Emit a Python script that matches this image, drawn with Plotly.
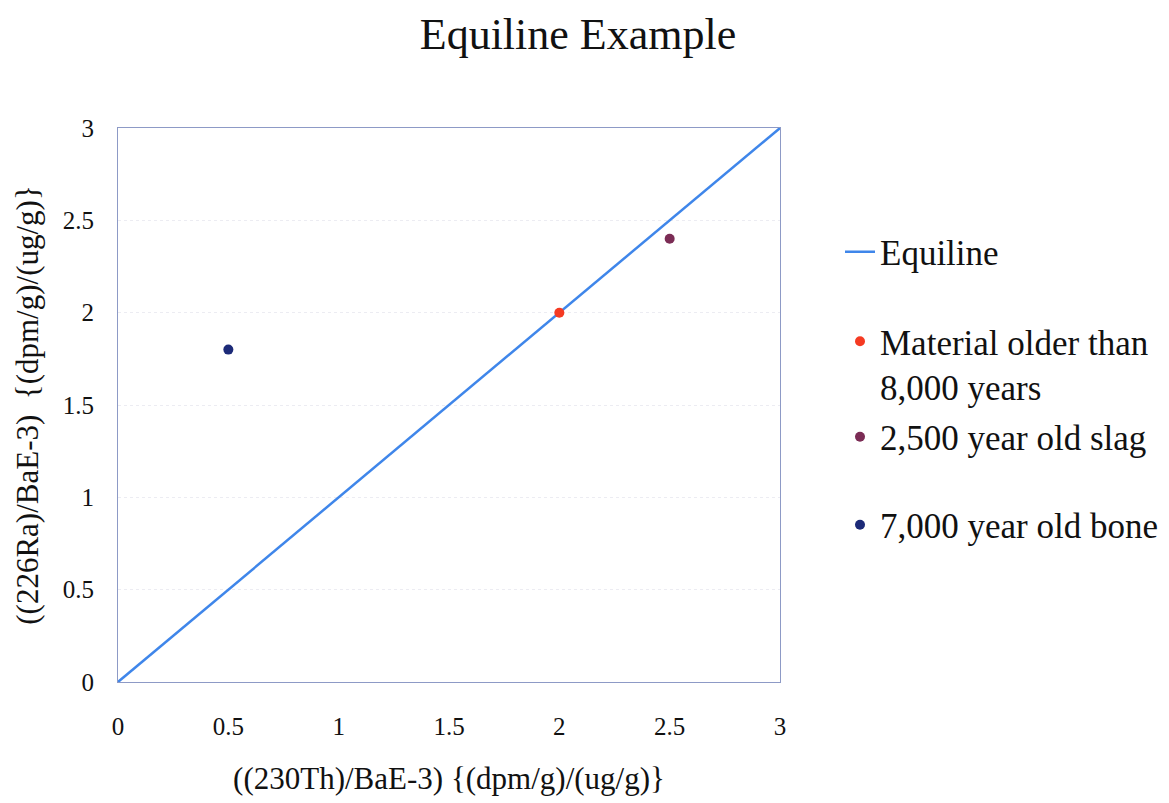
import plotly.graph_objects as go

equiline_x = [0, 3]
equiline_y = [0, 3]
names = ["Material older than<br>8,000 years", "2,500 year old slag", "7,000 year old bone"]
pts_x = [2.0, 2.5, 0.5]
pts_y = [2.0, 2.4, 1.8]
colors = ["#f53a22", "#7b2c55", "#1c2a78"]
tick_vals = [0, 0.5, 1, 1.5, 2, 2.5, 3]
tick_text = ["0", "0.5", "1", "1.5", "2", "2.5", "3"]

FONT = "Liberation Serif"
fig = go.Figure()
fig.add_trace(go.Scatter(x=equiline_x, y=equiline_y, mode="lines", name="Equiline",
                         line=dict(color="#3f86ea", width=2.5), legend="legend"))
legs = ["legend2", "legend3", "legend4"]
for n, x, y, c, lg in zip(names, pts_x, pts_y, colors, legs):
    fig.add_trace(go.Scatter(x=[x], y=[y], mode="markers", name=n,
                             marker=dict(color=c, size=10), legend=lg))

W, H = 1169, 803
L, R, T, B = 118, 389, 128, 121
pw = W - L - R
ph = H - T - B
def px(x):
    return (x - L) / pw
def py(y):
    return (H - B - y) / ph

legfont = dict(family=FONT, size=35, color="#111111")
common = dict(font=legfont, bgcolor="rgba(0,0,0,0)", xanchor="left", itemwidth=30)
fig.update_layout(
    width=W, height=H,
    margin=dict(l=L, r=R, t=T, b=B, autoexpand=False),
    paper_bgcolor="white", plot_bgcolor="white",
    title=dict(text="Equiline Example", x=578 / W, xanchor="center", y=1 - 34 / H, yanchor="middle",
               font=dict(family=FONT, size=44, color="#111111")),
    font=dict(family=FONT, color="#111111"),
    legend=dict(x=px(840), y=py(252), yanchor="middle", **common),
    legend2=dict(x=px(840), y=py(364), yanchor="middle", valign="top", **common),
    legend3=dict(x=px(840), y=py(437), yanchor="middle", **common),
    legend4=dict(x=px(840), y=py(525), yanchor="middle", **common),
    showlegend=True,
)
fig.update_xaxes(range=[0, 3], tickvals=tick_vals, ticktext=tick_text, showgrid=False,
                 zeroline=False, showline=True, mirror=True, linecolor="#8d9ac6", linewidth=1,
                 ticks="", ticklabelstandoff=22, tickfont=dict(family=FONT, size=25),
                 title=dict(text="((230Th)/BaE-3) {(dpm/g)/(ug/g)}", standoff=28,
                            font=dict(family=FONT, size=31)))
fig.update_yaxes(range=[0, 3], tickvals=tick_vals, ticktext=tick_text, showgrid=True,
                 gridcolor="#ececf2", griddash="dot", gridwidth=1,
                 zeroline=False, showline=True, mirror=True, linecolor="#8d9ac6", linewidth=1,
                 ticks="", ticklabelstandoff=18, tickfont=dict(family=FONT, size=25),
                 title=dict(text="((226Ra)/BaE-3)  {(dpm/g)/(ug/g)}", standoff=14,
                            font=dict(family=FONT, size=31)))
fig.write_html("out.html")
